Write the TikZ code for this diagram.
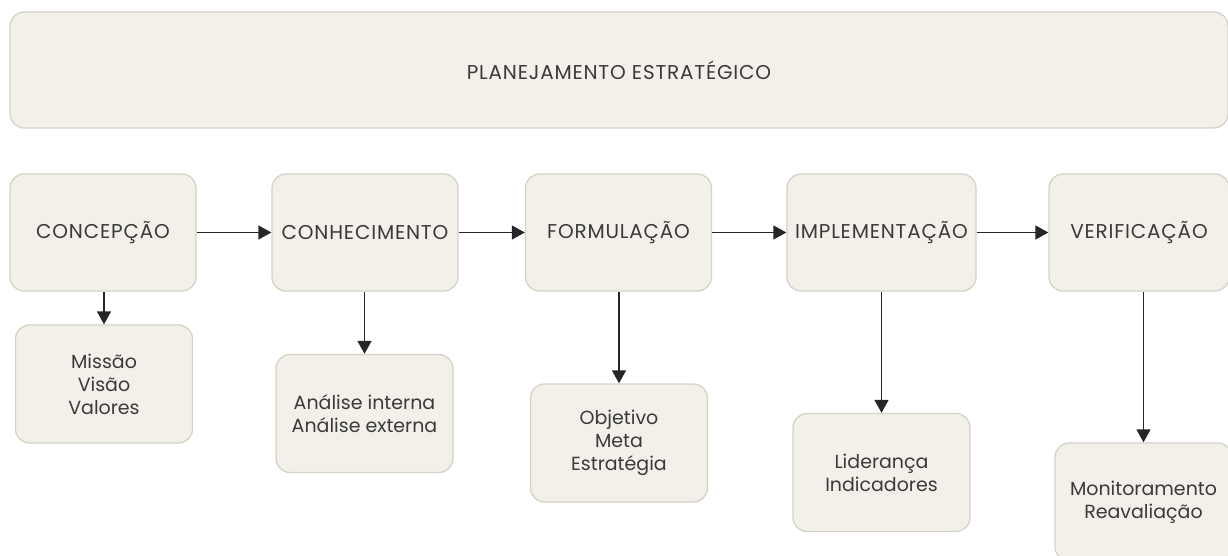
\documentclass[tikz,border=0pt]{standalone}
\usepackage{fontspec}
\setmainfont{Poppins}
\newfontfamily\capsfont[LetterSpace=4]{Poppins}
\usetikzlibrary{arrows.meta}
\definecolor{boxfill}{HTML}{F2F0E9}
\definecolor{boxline}{HTML}{D5D2C7}
\definecolor{txt}{HTML}{3A3A3A}
\tikzset{
  x=1pt,y=-1pt,
  card/.style={draw=boxline, fill=boxfill, line width=1.3pt, rounded corners=14pt,
    text=txt, font=\fontsize{19}{23}\selectfont, align=center, inner sep=0pt},
  main/.style={card, font=\fontsize{20}{24}\capsfont, minimum width=186pt, minimum height=117pt},
  sub/.style={card, minimum width=177pt, minimum height=118pt},
  conn/.style={line width=1.4pt, draw=black!85, -{Triangle[length=13pt,width=14pt]}}
}
\begin{document}
\begin{tikzpicture}
\useasboundingbox (0,0) rectangle (1228,556);
\clip (0,0) rectangle (1228,556);
\node[main, minimum width=1218pt, minimum height=116pt] (plan) at (619,70) {PLANEJAMENTO ESTRATÉGICO};

\node[main] (conc) at (103,232.5) {CONCEPÇÃO};
\node[main] (conh) at (365,232.5) {CONHECIMENTO};
\node[main] (form) at (618.5,232.5) {FORMULAÇÃO};
\node[main, minimum width=189pt] (impl) at (881.5,232.5) {IMPLEMENTAÇÃO};
\node[main, minimum width=180pt] (veri) at (1139,232.5) {VERIFICAÇÃO};

\node[sub] (mvv) at (104,384) {Missão\\Visão\\Valores};
\node[sub] (ana) at (364.5,413.5) {Análise interna\\Análise externa};
\node[sub] (obj) at (619,443) {Objetivo\\Meta\\Estratégia};
\node[sub] (lid) at (881.5,472.5) {Liderança\\Indicadores};
\node[sub] (mon) at (1143.5,502) {Monitoramento\\Reavaliação};

\draw[conn] (conc) -- (conh);
\draw[conn] (conh) -- (form);
\draw[conn] (form) -- (impl);
\draw[conn] (impl) -- (veri);

\draw[conn] (mvv.north |- conc.south) -- (mvv.north);
\draw[conn] (ana.north |- conh.south) -- (ana.north);
\draw[conn] (obj.north |- form.south) -- (obj.north);
\draw[conn] (lid.north |- impl.south) -- (lid.north);
\draw[conn] (mon.north |- veri.south) -- (mon.north);
\end{tikzpicture}
\end{document}
